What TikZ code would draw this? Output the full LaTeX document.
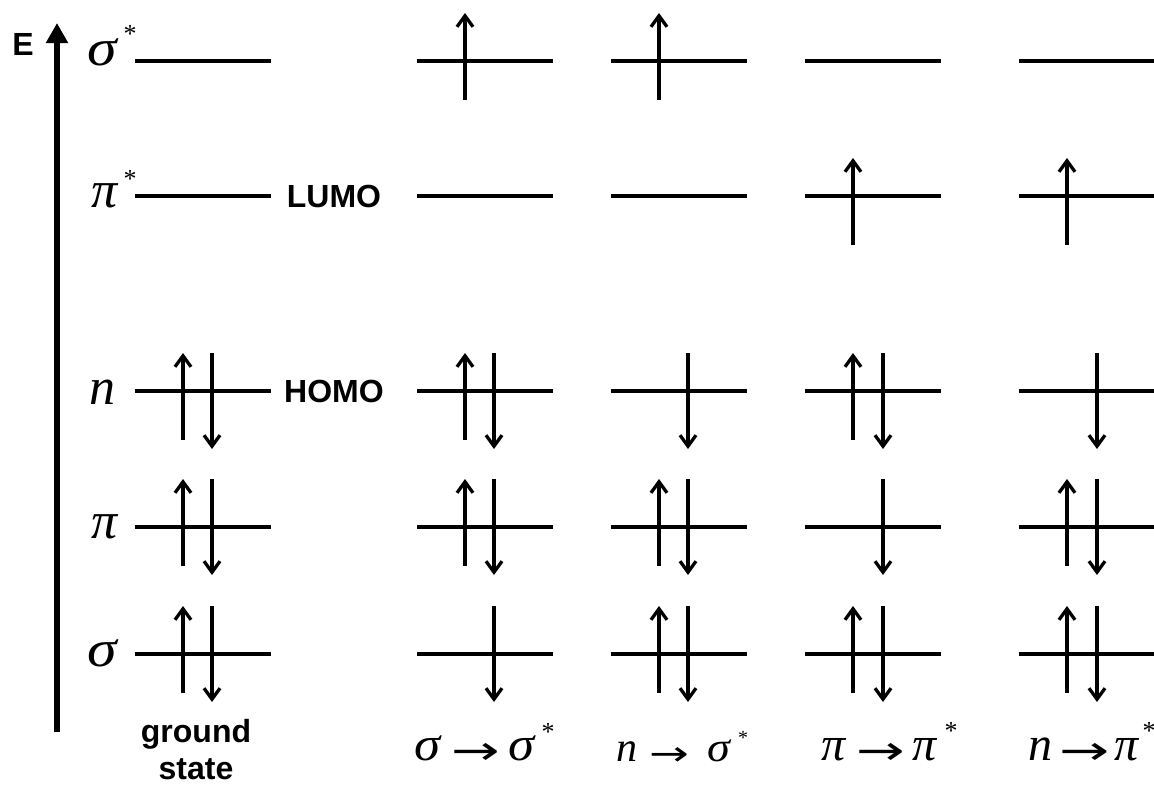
\documentclass[tikz,border=0pt]{standalone}
\usepackage{fontspec}
\setsansfont{Liberation Sans}
\newfontfamily\gk{Liberation Serif}
\newfontfamily\arwfont{DejaVu Sans}
\usetikzlibrary{arrows.meta}
\newcommand{\upspin}[3]{\draw[spin] ({#1},{#2+39+#3}) -- ({#1},{#2-48+#3});}
\newcommand{\downspin}[3]{\draw[spin] ({#1},{#2-48+#3}) -- ({#1},{#2+48+#3});}
\newcommand{\arw}[2]{\raisebox{-4pt}{\scalebox{#2}[1]{\arwfont\upshape\fontsize{#1}{#1}\selectfont →}}}
\begin{document}
\begin{tikzpicture}[x=1pt,y=-1pt,
  level/.style={line width=4.8pt},
  spin/.style={line width=3.3pt,-{Straight Barb[length=11pt,width=16pt,line width=3.3pt]}},
  axis/.style={line width=6pt,-{Triangle[length=20pt,width=21pt]}},
  bsans/.style={font=\fontsize{32}{32}\selectfont\sffamily\bfseries,inner sep=0pt,anchor=base},
  sym/.style={font=\fontsize{52}{52}\selectfont\gk\itshape,inner sep=0pt,anchor=base},
  trans/.style={font=\fontsize{48}{48}\selectfont\gk\itshape,inner sep=0pt,anchor=base west},
  star/.style={font=\fontsize{26}{26}\selectfont\gk,inner sep=0pt,anchor=center}]
\useasboundingbox (0,0) rectangle (1154,785);
% energy axis
\coordinate (ab) at (57,732);
\coordinate (at) at (57,23);
\draw[axis] (ab) -- (at);
\node[bsans] (E) at (23,55) {E};
% level labels
\node[sym] (lss) at (102,65) {\scalebox{1.15}[1]{σ}};
\node[star] (lssx) at (130,34) {*};
\node[sym] (lps) at (105,207) {π};
\node[star] (lpsx) at (130,179) {*};
\node[sym] (ln) at (102,404) {n};
\node[sym] (lp) at (105,538) {π};
\node[sym] (ls) at (102,666) {\scalebox{1.15}[1]{σ}};
% levels
\foreach \l in {135,417,611,805}{
  \foreach \L in {61,196,391,527,654}{
    \draw[level] (\l,\L) -- ({\l+136},\L);
  }
}
\foreach \L in {61,196,391,527,654}{
  \draw[level] (1019,\L) -- (1156,\L);
}
\node[bsans] (lumo) at (334,207) {LUMO};
\node[bsans] (homo) at (334,402) {HOMO};
% column 1: ground state
\upspin{183}{391}{10}\downspin{212}{391}{10}
\upspin{183}{527}{0}\downspin{212}{527}{0}
\upspin{183}{654}{0}\downspin{212}{654}{0}
% column 2: sigma -> sigma*
\upspin{465}{61}{0}
\upspin{465}{391}{10}\downspin{494}{391}{10}
\upspin{465}{527}{0}\downspin{494}{527}{0}
\downspin{494}{654}{0}
% column 3: n -> sigma*
\upspin{659}{61}{0}
\downspin{688}{391}{10}
\upspin{659}{527}{0}\downspin{688}{527}{0}
\upspin{659}{654}{0}\downspin{688}{654}{0}
% column 4: pi -> pi*
\upspin{853}{196}{10}
\upspin{853}{391}{10}\downspin{883}{391}{10}
\downspin{883}{527}{0}
\upspin{853}{654}{0}\downspin{883}{654}{0}
% column 5: n -> pi*
\upspin{1067}{196}{10}
\downspin{1097}{391}{10}
\upspin{1067}{527}{0}\downspin{1097}{527}{0}
\upspin{1067}{654}{0}\downspin{1097}{654}{0}
% bottom labels
\node[bsans] (gr) at (196,742) {ground};
\node[bsans] (st) at (196,779) {state};
\node[trans] (t1) at (414,760) {\scalebox{1.1}[1]{σ}\hspace{11pt}\arw{40}{1.45}\hspace{9pt}\scalebox{1.1}[1]{σ}};
\node[star] (t1x) at (548,732) {*};
\node[trans,font=\fontsize{42}{42}\selectfont\gk\itshape] (t2) at (616,761) {n\hspace{12pt}\arw{34}{1.4}\hspace{18pt}\scalebox{1.1}[1]{σ}};
\node[star,font=\fontsize{20}{20}\selectfont\gk] (t2x) at (743,738) {*};
\node[trans] (t3) at (821,760) {π\hspace{11pt}\arw{40}{1.45}\hspace{8pt}π};
\node[star] (t3x) at (951,731) {*};
\node[trans] (t4) at (1028,760) {n\hspace{7pt}\arw{40}{1.5}\hspace{5pt}π};
\node[star] (t4x) at (1149,731) {*};
\end{tikzpicture}
\end{document}
